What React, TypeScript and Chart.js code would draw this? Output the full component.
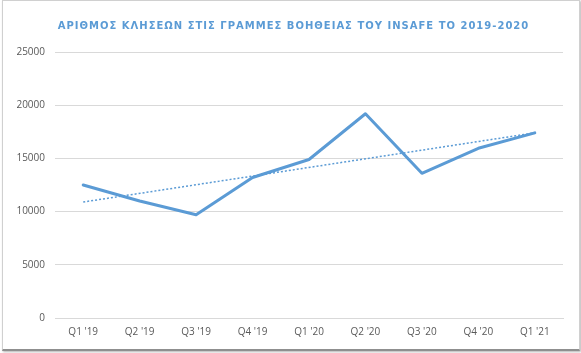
import React, { useEffect, useRef } from "react";
import { Chart, registerables } from "chart.js";

Chart.register(...registerables);

const titleText = "ΑΡΙΘΜΟΣ ΚΛΗΣΕΩΝ ΣΤΙΣ ΓΡΑΜΜΕΣ ΒΟΗΘΕΙΑΣ ΤΟΥ INSAFE ΤΟ 2019-2020";
const categories = ["Q1 '19", "Q2 '19", "Q3 '19", "Q4 '19", "Q1 '20", "Q2 '20", "Q3 '20", "Q4 '20", "Q1 '21"];
const calls = [12500, 11000, 9700, 13200, 14900, 19200, 13600, 15950, 17400];
const trend = [10900, null, null, null, null, null, null, null, 17400];
const yMin = 0;
const yMax = 25000;
const yStep = 5000;

const BLUE = "#5b9bd5";

const titlePlugin = {
  id: "spacedTitle",
  afterDraw(chart: any) {
    const ctx = chart.ctx;
    ctx.save();
    ctx.font = "bold 10px 'DejaVu Sans'";
    (ctx as any).letterSpacing = "1px";
    ctx.fillStyle = BLUE;
    ctx.textAlign = "center";
    ctx.textBaseline = "middle";
    ctx.fillText(titleText, chart.width / 2 + 3, 26);
    ctx.restore();
  },
};

export default function App() {
  const ref = useRef<HTMLCanvasElement | null>(null);
  useEffect(() => {
    document.body.style.margin = "0";
    const c = ref.current!;
    const chart = new Chart(c, {
      type: "line",
      data: {
        labels: categories,
        datasets: [
          {
            data: calls,
            borderColor: BLUE,
            borderWidth: 3,
            pointRadius: 0,
            tension: 0,
            borderJoinStyle: "round",
            borderCapStyle: "round",
            fill: false,
          },
          {
            data: trend as any,
            borderColor: BLUE,
            borderWidth: 1.5,
            borderDash: [2, 2],
            pointRadius: 0,
            spanGaps: true,
            fill: false,
          },
        ],
      },
      options: {
        responsive: false,
        animation: false,
        layout: { padding: { left: 0, right: 18, top: 52, bottom: 0 } },
        plugins: {
          legend: { display: false },
          title: { display: false },
          tooltip: { enabled: false },
        },
        scales: {
          x: {
            offset: true,
            grid: { display: false, drawTicks: false },
            border: { display: true, color: "#d9d9d9", width: 1 },
            ticks: {
              color: "#595959",
              font: { family: "'Open Sans'", size: 10 },
              padding: 8,
              maxRotation: 0,
              autoSkip: false,
            },
            afterFit(scale: any) {
              scale.height = 35;
            },
          },
          y: {
            min: yMin,
            max: yMax,
            grid: { color: "#d9d9d9", lineWidth: 1, drawTicks: false },
            border: { display: false },
            ticks: {
              stepSize: yStep,
              color: "#595959",
              font: { family: "'Open Sans'", size: 10 },
              padding: 10,
              callback: (v: any) => String(v),
            },
            afterFit(scale: any) {
              scale.width = 55;
            },
          },
        },
      },
      plugins: [titlePlugin],
    });
    return () => chart.destroy();
  }, []);
  return (
    <div style={{ position: "relative", width: 581, height: 353, background: "#fff" }}>
      <canvas ref={ref} width={581} height={353} style={{ display: "block" }} />
      <div
        style={{
          position: "absolute",
          left: 2,
          top: 0,
          width: 576,
          height: 348,
          border: "1px solid #d0d0d0",
          borderBottom: "2px solid #8f8f8f",
          boxShadow: "1px 1px 2px rgba(0,0,0,0.3)",
          pointerEvents: "none",
        }}
      />
    </div>
  );
}
